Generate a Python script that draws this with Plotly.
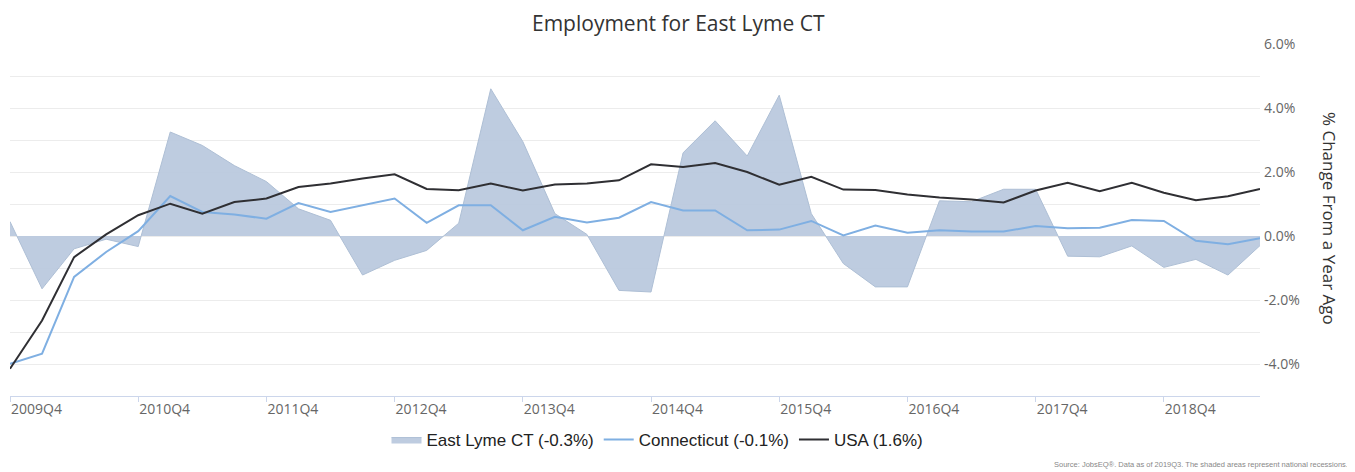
import plotly.graph_objects as go

quarters = [
    "2009Q4",
    "2010Q1", "2010Q2", "2010Q3", "2010Q4",
    "2011Q1", "2011Q2", "2011Q3", "2011Q4",
    "2012Q1", "2012Q2", "2012Q3", "2012Q4",
    "2013Q1", "2013Q2", "2013Q3", "2013Q4",
    "2014Q1", "2014Q2", "2014Q3", "2014Q4",
    "2015Q1", "2015Q2", "2015Q3", "2015Q4",
    "2016Q1", "2016Q2", "2016Q3", "2016Q4",
    "2017Q1", "2017Q2", "2017Q3", "2017Q4",
    "2018Q1", "2018Q2", "2018Q3", "2018Q4",
    "2019Q1", "2019Q2", "2019Q3",
]

east_lyme = [
    0.45, -1.65, -0.4, -0.1, -0.33, 3.25, 2.83, 2.2, 1.7, 0.85,
    0.49, -1.22, -0.76, -0.45, 0.4, 4.6, 2.95, 0.7, 0.05, -1.7,
    -1.75, 2.6, 3.6, 2.5, 4.4, 0.7, -0.86, -1.59, -1.59, 1.1,
    1.07, 1.46, 1.46, -0.63, -0.65, -0.31, -0.98, -0.73, -1.22, -0.3,
]

connecticut = [
    -3.99, -3.68, -1.28, -0.5, 0.15, 1.25, 0.75, 0.67, 0.54, 1.03,
    0.75, 0.96, 1.17, 0.41, 0.96, 0.96, 0.18, 0.6, 0.42, 0.57,
    1.06, 0.8, 0.8, 0.18, 0.2, 0.47, 0.02, 0.33, 0.1, 0.18,
    0.14, 0.14, 0.31, 0.24, 0.26, 0.5, 0.47, -0.15, -0.26, -0.07,
]

usa = [
    -4.15, -2.64, -0.66, 0.05, 0.65, 1.01, 0.70, 1.06, 1.17, 1.53,
    1.64, 1.8, 1.93, 1.47, 1.43, 1.64, 1.42, 1.61, 1.64, 1.74,
    2.24, 2.16, 2.28, 2.0, 1.6, 1.85, 1.45, 1.44, 1.3, 1.2,
    1.14, 1.05, 1.42, 1.66, 1.4, 1.66, 1.35, 1.12, 1.24, 1.47,
]

title_text = "Employment for East Lyme CT"
names = ["East Lyme CT (-0.3%)", "Connecticut (-0.1%)", "USA (1.6%)"]
x_tick_labels = [q for q in quarters if q.endswith("Q4")]
y_tick_values = [-4, -2, 0, 2, 4, 6]

fig = go.Figure()
fig.add_trace(go.Scatter(
    x=quarters, y=east_lyme, name=names[0], mode="lines",
    fill="tozeroy", fillcolor="rgba(184,200,221,0.92)",
    line=dict(color="#aebfd5", width=1),
))
fig.add_trace(go.Scatter(
    x=quarters, y=connecticut, name=names[1], mode="lines",
    line=dict(color="#7fafe2", width=2),
))
fig.add_trace(go.Scatter(
    x=quarters, y=usa, name=names[2], mode="lines",
    line=dict(color="#2f2f33", width=2),
))

# page body has an 8px margin, so the figure is 8px smaller and offsets are shifted
fig.update_layout(
    width=1347, height=464,
    margin=dict(l=2, r=95, t=36, b=76),
    paper_bgcolor="white", plot_bgcolor="white",
    font=dict(family="Open Sans, DejaVu Sans, sans-serif", color="#666666"),
    showlegend=True,
    legend=dict(
        orientation="h", x=0.518, xanchor="center",
        y=-0.125, yanchor="middle",
        font=dict(size=17, color="#222222", family="Liberation Sans, Arial, sans-serif"),
        itemwidth=30, traceorder="normal",
        bgcolor="rgba(0,0,0,0)",
    ),
    xaxis=dict(
        type="category",
        range=[0, 39],
        tickmode="array", tickvals=x_tick_labels, ticktext=x_tick_labels,
        ticks="outside", ticklen=5, tickcolor="#ccd6eb",
        ticklabelposition="outside right",
        showline=True, linecolor="#ccd6eb", linewidth=1,
        showgrid=False, zeroline=False,
        tickfont=dict(size=14, color="#666666"),
    ),
    yaxis=dict(
        side="right",
        range=[-5, 6],
        tickmode="array", tickvals=y_tick_values,
        ticktext=[f"{v:.1f}%" for v in y_tick_values],
        showgrid=True, gridcolor="#ececec", gridwidth=1,
        minor=dict(dtick=1, tick0=0, showgrid=True, gridcolor="#ececec", gridwidth=1),
        zeroline=False, showline=False, ticks="",
        tickfont=dict(size=14, color="#666666"),
        ticklabelstandoff=3,
    ),
    annotations=[
        dict(
            text=title_text,
            xref="paper", yref="paper", x=0.5, xshift=(678 - 8) - (2 + 625), y=1, yshift=21,
            xanchor="center", yanchor="middle", showarrow=False,
            font=dict(size=21, color="#333333", family="Open Sans, sans-serif"),
        ),
        dict(
            text="% Change From a Year Ago", textangle=90,
            xref="paper", yref="paper", x=1.0, xshift=70, y=0.5, yshift=2,
            xanchor="center", yanchor="middle", showarrow=False,
            font=dict(size=17, color="#333333", family="Open Sans, sans-serif"),
        ),
        dict(
            text="Source: JobsEQ®. Data as of 2019Q3. The shaded areas represent national recessions.",
            xref="paper", yref="paper", x=1.0, xshift=90, y=0, yshift=-68,
            xanchor="right", yanchor="middle", showarrow=False,
            font=dict(size=7.5, color="#888888", family="Liberation Sans, Arial, sans-serif"),
        ),
    ],
)

fig.write_html("out.html")
